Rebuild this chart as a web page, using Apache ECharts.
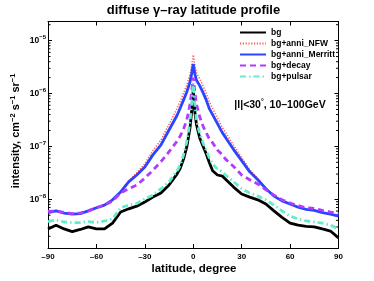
<!DOCTYPE html>
<html><head><meta charset="utf-8">
<script src="https://cdn.jsdelivr.net/npm/echarts@6/dist/echarts.min.js"></script>
<style>html,body{margin:0;padding:0;background:#fff}#c{width:374px;height:281px}</style>
</head><body><div id="c"></div>
<script>
// latitude (degree)
const latitudes = [-90,-85,-80,-75,-70,-65,-60,-55,-50,-45,-40,-35,-30,-25,-20,-15,-10,-8,-6,-4,-2,-1,0,1,2,4,6,8,10,12,15,18,20,25,30,35,40,45,50,55,60,65,70,75,80,85,90];
const bg = [2.75e-9,3.24e-9,2.75e-9,2.45e-9,2.69e-9,3.02e-9,2.75e-9,2.75e-9,3.55e-9,
  5.75e-9,6.61e-9,7.41e-9,8.91e-9,1.10e-8,1.32e-8,1.86e-8,3.02e-8,
  3.89e-8,5.75e-8,9.77e-8,2.24e-7,4.47e-7,
  1.175e-6,
  4.47e-7,2.57e-7,1.445e-7,1.02e-7,7.24e-8,4.90e-8,3.47e-8,
  2.88e-8,2.75e-8,2.40e-8,1.70e-8,1.26e-8,1.10e-8,9.77e-9,8.13e-9,
  6.03e-9,4.57e-9,3.55e-9,3.24e-9,3.09e-9,3.02e-9,2.75e-9,2.51e-9,1.86e-9];
const bgAnniNFW = [5.62e-9,6.03e-9,5.50e-9,5.25e-9,5.37e-9,6.03e-9,6.92e-9,7.76e-9,9.77e-9,
  1.41e-8,2.24e-8,3.16e-8,4.68e-8,8.32e-8,1.32e-7,2.63e-7,5.25e-7,
  7.24e-7,1.02e-6,1.445e-6,2.29e-6,3.31e-6,
  5.37e-6,
  3.31e-6,2.45e-6,1.905e-6,1.41e-6,1.02e-6,6.92e-7,5.25e-7,
  3.47e-7,2.29e-7,1.82e-7,1.05e-7,6.17e-8,3.63e-8,2.45e-8,1.62e-8,
  1.15e-8,9.33e-9,8.13e-9,7.08e-9,6.46e-9,6.17e-9,5.62e-9,5.25e-9,4.79e-9];
const bgAnniMerritt = [5.62e-9,6.03e-9,5.50e-9,5.25e-9,5.37e-9,6.03e-9,6.92e-9,7.76e-9,9.77e-9,
  1.38e-8,2.14e-8,2.88e-8,4.07e-8,6.92e-8,1.07e-7,2.04e-7,3.89e-7,
  5.37e-7,7.59e-7,1.07e-6,1.66e-6,2.34e-6,
  3.63e-6,
  2.34e-6,1.78e-6,1.41e-6,1.05e-6,7.59e-7,5.13e-7,3.98e-7,
  2.69e-7,1.82e-7,1.48e-7,8.71e-8,5.37e-8,3.31e-8,2.34e-8,1.585e-8,
  1.15e-8,9.33e-9,8.13e-9,7.08e-9,6.46e-9,6.17e-9,5.62e-9,5.25e-9,4.79e-9];
const bgDecay = [5.89e-9,6.03e-9,5.62e-9,5.37e-9,5.50e-9,6.03e-9,6.92e-9,7.76e-9,9.33e-9,
  1.32e-8,1.585e-8,1.86e-8,2.51e-8,3.55e-8,5.13e-8,7.94e-8,1.26e-7,
  1.585e-7,2.14e-7,3.16e-7,6.31e-7,1.07e-6,
  2.00e-6,
  1.07e-6,6.31e-7,3.63e-7,2.45e-7,1.82e-7,1.38e-7,1.175e-7,
  8.51e-8,6.92e-8,5.75e-8,4.17e-8,2.88e-8,2.34e-8,1.95e-8,1.51e-8,
  1.20e-8,9.77e-9,8.51e-9,7.59e-9,6.92e-9,6.76e-9,6.17e-9,5.75e-9,5.37e-9];
const bgPulsar = [3.80e-9,4.07e-9,3.72e-9,3.63e-9,3.63e-9,3.80e-9,3.63e-9,3.89e-9,4.27e-9,
  6.92e-9,7.76e-9,8.32e-9,1.02e-8,1.20e-8,1.585e-8,2.14e-8,3.47e-8,
  4.47e-8,6.92e-8,1.23e-7,2.95e-7,6.17e-7,
  1.585e-6,
  6.17e-7,3.16e-7,1.74e-7,1.175e-7,8.51e-8,6.03e-8,4.68e-8,
  3.72e-8,3.31e-8,2.88e-8,2.14e-8,1.585e-8,1.32e-8,1.15e-8,9.77e-9,
  7.76e-9,6.03e-9,4.79e-9,4.27e-9,3.89e-9,3.72e-9,3.55e-9,3.24e-9,2.75e-9];
const seriesNames = ['bg','bg+anni_NFW','bg+anni_Merritt','bg+decay','bg+pulsar'];
const xTicks = [-90,-60,-30,0,30,60,90];
const yMinorTicks = [2e-9,3e-9,4e-9,5e-9,6e-9,7e-9,8e-9,9e-9,
  2e-8,3e-8,4e-8,5e-8,6e-8,7e-8,8e-8,9e-8,
  2e-7,3e-7,4e-7,5e-7,6e-7,7e-7,8e-7,9e-7,
  2e-6,3e-6,4e-6,5e-6,6e-6,7e-6,8e-6,9e-6,2e-5];

const FONT = 'Liberation Sans, Arial, Helvetica, sans-serif';
const Y_MIN = 1.2e-9, Y_MAX = 2.3e-5;
const pair = arr => latitudes.map((x, i) => [x, arr[i]]);

const chart = echarts.init(document.getElementById('c'), null, {renderer: 'canvas'});
const axisLine = {show: true, onZero: false, lineStyle: {color: '#000', width: 1}};
const yLabelFormatter = v => {
  const e = Math.round(Math.log10(v));
  return '{b|10}{s|' + String(e).replace('-', '\u2212') + '}';
};
const option = {
  animation: false,
  backgroundColor: '#fff',
  grid: {left: 48, right: 35.5, top: 21.5, bottom: 33, containLabel: false},
  xAxis: [{
    type: 'value', min: xTicks[0], max: xTicks[xTicks.length - 1], interval: 30,
    axisLine, splitLine: {show: false},
    axisTick: {inside: true, length: 4, lineStyle: {color: '#000'}},
    axisLabel: {fontFamily: FONT, fontSize: 8, fontWeight: 'bold', color: '#000', margin: 5,
      formatter: v => String(v).replace('-', '\u2013')}
  }, {
    type: 'value', min: xTicks[0], max: xTicks[xTicks.length - 1], interval: 30, position: 'top',
    axisLine, splitLine: {show: false},
    axisTick: {inside: true, length: 4, lineStyle: {color: '#000'}},
    axisLabel: {show: false}
  }],
  yAxis: [{
    type: 'log', logBase: 10, min: Y_MIN, max: Y_MAX,
    axisLine, splitLine: {show: false},
    axisTick: {inside: true, length: 4, lineStyle: {color: '#000'}},
    axisLabel: {showMinLabel: false, showMaxLabel: false, margin: 2, formatter: yLabelFormatter,
      rich: {
        b: {fontFamily: FONT, fontSize: 8.5, fontWeight: 'bold', color: '#000', lineHeight: 12},
        s: {fontFamily: FONT, fontSize: 6, fontWeight: 'bold', color: '#000', lineHeight: 6, verticalAlign: 'top'}
      }}
  }, {
    type: 'log', logBase: 10, min: Y_MIN, max: Y_MAX, position: 'right',
    axisLine, splitLine: {show: false},
    axisTick: {inside: true, length: 4, lineStyle: {color: '#000'}},
    axisLabel: {show: false}
  }],
  legend: {
    orient: 'vertical', left: 239, top: 28, padding: 0, itemWidth: 26, itemHeight: 8, itemGap: 2,
    data: seriesNames,
    itemStyle: {opacity: 0},
    textStyle: {fontFamily: FONT, fontSize: 8.5, fontWeight: 'bold', color: '#000', lineHeight: 8}
  },
  graphic: [
    {type: 'text', x: 193.5, y: 10, style: {text: 'diffuse \u03b3\u2013ray latitude profile', fontFamily: FONT,
      fontSize: 13, fontWeight: 'bold', fill: '#000', align: 'center', verticalAlign: 'middle'}},
    {type: 'text', x: 194, y: 269, style: {text: 'latitude, degree', fontFamily: FONT,
      fontSize: 11.5, fontWeight: 'bold', fill: '#000', align: 'center', verticalAlign: 'middle'}},
    {type: 'text', x: 16, y: 131, rotation: Math.PI / 2, style: {
      text: '{a|intensity, cm}{s|\u22122}{a| s}{s|\u22121}{a| sr}{s|\u22121}',
      align: 'center', verticalAlign: 'middle',
      rich: {
        a: {fontFamily: FONT, fontSize: 11, fontWeight: 'bold', fill: '#000', lineHeight: 14},
        s: {fontFamily: FONT, fontSize: 7.5, fontWeight: 'bold', fill: '#000', lineHeight: 8, verticalAlign: 'top'}
      }}},
    {type: 'text', x: 280, y: 105, style: {
      text: '{a||l|<30}{s|\u00b0}{a|, 10\u2013100GeV}',
      align: 'center', verticalAlign: 'middle',
      rich: {
        a: {fontFamily: FONT, fontSize: 10.5, fontWeight: 'bold', fill: '#000', lineHeight: 13},
        s: {fontFamily: FONT, fontSize: 7, fontWeight: 'bold', fill: '#000', lineHeight: 7, verticalAlign: 'top'}
      }}}
  ],
  series: [
    {name: 'bg', type: 'line', data: pair(bg), showSymbol: false, symbol: 'none', z: 2,
      lineStyle: {color: '#000', width: 2.8}, itemStyle: {color: '#000'}},
    {name: 'bg+anni_NFW', type: 'line', data: pair(bgAnniNFW), showSymbol: false, symbol: 'none', z: 3,
      lineStyle: {color: '#ff5a5a', width: 1.6, type: [1.2, 1.6]}, itemStyle: {color: '#ff5a5a'}},
    {name: 'bg+anni_Merritt', type: 'line', data: pair(bgAnniMerritt), showSymbol: false, symbol: 'none', z: 4,
      lineStyle: {color: '#2a44ff', width: 2.8}, itemStyle: {color: '#2a44ff'}},
    {name: 'bg+decay', type: 'line', data: pair(bgDecay), showSymbol: false, symbol: 'none', z: 5,
      lineStyle: {color: '#b13cff', width: 2.8, type: [6, 4]}, itemStyle: {color: '#b13cff'}},
    {name: 'bg+pulsar', type: 'line', data: pair(bgPulsar), showSymbol: false, symbol: 'none', z: 6,
      lineStyle: {color: '#62eccc', width: 2.8, type: [6, 3, 1.5, 3]}, itemStyle: {color: '#62eccc'}},
    {name: 'minor', type: 'custom', silent: true, z: 1,
      data: yMinorTicks.map(v => [-90, v]),
      renderItem: (params, api) => {
        const v = api.value(1);
        const l = api.coord([-90, v]);
        const r = api.coord([90, v]);
        return {type: 'group', children: [
          {type: 'line', shape: {x1: l[0], y1: l[1], x2: l[0] + 2.5, y2: l[1]}, style: {stroke: '#000', lineWidth: 1}},
          {type: 'line', shape: {x1: r[0] - 2.5, y1: r[1], x2: r[0], y2: r[1]}, style: {stroke: '#000', lineWidth: 1}}
        ]};
      }}
  ]
};
chart.setOption(option);
</script>
</body></html>
